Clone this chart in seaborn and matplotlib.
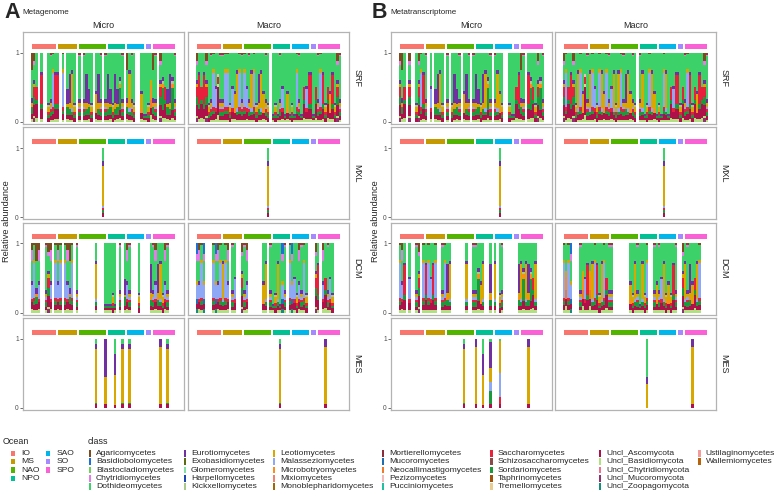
import numpy as np
import pandas as pd
import seaborn as sns
import matplotlib.pyplot as plt
from matplotlib.patches import Rectangle

sns.set_style("white")
plt.rcParams["font.family"] = ["Liberation Sans", "DejaVu Sans"]

# ---- data ----
oceans = ["IO", "MS", "NAO", "NPO", "SAO", "SO", "SPO"]
ocean_n = [11, 9, 12, 8, 8, 3, 10]
ocean_colors = ["#F8766D", "#C49A00", "#53B400", "#00C094", "#00B6EB", "#A58AFF", "#FB61D7"]

classes = ["Agaricomycetes", "Basidiobolomycetes", "Blastocladiomycetes", "Chytridiomycetes",
           "Dothideomycetes", "Eurotiomycetes", "Exobasidiomycetes", "Glomeromycetes",
           "Harpellomycetes", "Kickxellomycetes", "Leotiomycetes", "Malasseziomycetes",
           "Microbotryomycetes", "Mixiomycetes", "Monoblepharidomycetes", "Mortierellomycetes",
           "Mucoromycetes", "Neocallimastigomycetes", "Pezizomycetes", "Pucciniomycetes",
           "Saccharomycetes", "Schizosaccharomycetes", "Sordariomycetes", "Taphrinomycetes",
           "Tremellomycetes", "Uncl_Ascomycota", "Uncl_Basidiomycota", "Uncl_Chytridiomycota",
           "Uncl_Mucoromycota", "Uncl_Zoopagomycota", "Ustilaginomycetes", "Wallemiomycetes"]
class_colors = ["#7B4A1E", "#1E6FD9", "#6FD15A", "#E57BE8", "#3DD16A", "#7030A0", "#5C6B12",
                "#7EE0A0", "#1F45B0", "#A8C98A", "#D9A800", "#8FA8F5", "#FF8C1A", "#F08070",
                "#A0680A", "#8B2E3A", "#1E6FB0", "#F07A2A", "#F5B8B8", "#20C0A0", "#E8203C",
                "#8A4A4A", "#1A9A3A", "#A0520A", "#E8CC90", "#B0104A", "#B0E080", "#F07090",
                "#903070", "#10907A", "#F59A9A", "#B8620A"]

# typical class mixtures seen in the bars (code -> class fractions)
profiles = {
    "g": {"Agaricomycetes": .03, "Chytridiomycetes": .02, "Dothideomycetes": .62, "Eurotiomycetes": .06,
          "Leotiomycetes": .05, "Malasseziomycetes": .04, "Saccharomycetes": .03, "Sordariomycetes": .07,
          "Uncl_Ascomycota": .05, "Uncl_Basidiomycota": .03},
    "h": {"Dothideomycetes": .72, "Eurotiomycetes": .03, "Leotiomycetes": .08, "Sordariomycetes": .04,
          "Saccharomycetes": .04, "Uncl_Ascomycota": .06, "Kickxellomycetes": .03},
    "G": {"Dothideomycetes": .88, "Eurotiomycetes": .03, "Sordariomycetes": .03, "Uncl_Ascomycota": .03,
          "Uncl_Basidiomycota": .03},
    "b": {"Agaricomycetes": .12, "Chytridiomycetes": .06, "Dothideomycetes": .22, "Eurotiomycetes": .05,
          "Leotiomycetes": .05, "Saccharomycetes": .14, "Sordariomycetes": .12, "Uncl_Ascomycota": .16,
          "Uncl_Basidiomycota": .03, "Uncl_Mucoromycota": .05},
    "w": {"Agaricomycetes": .25, "Dothideomycetes": .40, "Eurotiomycetes": .08, "Microbotryomycetes": .05,
          "Sordariomycetes": .10, "Uncl_Ascomycota": .08, "Uncl_Basidiomycota": .04},
    "p": {"Dothideomycetes": .30, "Eurotiomycetes": .42, "Leotiomycetes": .06, "Microbotryomycetes": .04,
          "Sordariomycetes": .08, "Uncl_Ascomycota": .07, "Uncl_Basidiomycota": .03},
    "q": {"Dothideomycetes": .52, "Eurotiomycetes": .22, "Leotiomycetes": .04, "Sordariomycetes": .12,
          "Uncl_Ascomycota": .06, "Uncl_Basidiomycota": .04},
    "m": {"Agaricomycetes": .02, "Dothideomycetes": .22, "Leotiomycetes": .05, "Malasseziomycetes": .50,
          "Saccharomycetes": .05, "Sordariomycetes": .05, "Uncl_Ascomycota": .08, "Uncl_Basidiomycota": .03},
    "n": {"Dothideomycetes": .48, "Eurotiomycetes": .04, "Malasseziomycetes": .28, "Saccharomycetes": .06,
          "Uncl_Ascomycota": .10, "Uncl_Basidiomycota": .04},
    "y": {"Dothideomycetes": .25, "Eurotiomycetes": .05, "Leotiomycetes": .50, "Malasseziomycetes": .05,
          "Sordariomycetes": .05, "Uncl_Ascomycota": .07, "Uncl_Basidiomycota": .03},
    "a": {"Dothideomycetes": .55, "Eurotiomycetes": .05, "Leotiomycetes": .22, "Microbotryomycetes": .05,
          "Uncl_Ascomycota": .09, "Uncl_Basidiomycota": .04},
    "r": {"Dothideomycetes": .28, "Eurotiomycetes": .04, "Saccharomycetes": .42, "Sordariomycetes": .08,
          "Uncl_Ascomycota": .14, "Uncl_Basidiomycota": .04},
    "d": {"Dothideomycetes": .50, "Saccharomycetes": .18, "Sordariomycetes": .06, "Uncl_Ascomycota": .20,
          "Uncl_Basidiomycota": .06},
    "s": {"Dothideomycetes": .35, "Eurotiomycetes": .06, "Kickxellomycetes": .04, "Microbotryomycetes": .06,
          "Sordariomycetes": .32, "Uncl_Ascomycota": .12, "Uncl_Basidiomycota": .05},
    "o": {"Dothideomycetes": .40, "Leotiomycetes": .08, "Microbotryomycetes": .20, "Neocallimastigomycetes": .12,
          "Uncl_Ascomycota": .10, "Uncl_Basidiomycota": .10},
    "c": {"Agaricomycetes": .10, "Chytridiomycetes": .15, "Dothideomycetes": .30, "Eurotiomycetes": .05,
          "Malasseziomycetes": .20, "Saccharomycetes": .05, "Uncl_Ascomycota": .10, "Uncl_Basidiomycota": .05},
    "u": {"Basidiobolomycetes": .15, "Chytridiomycetes": .10, "Dothideomycetes": .30, "Leotiomycetes": .05,
          "Malasseziomycetes": .20, "Mucoromycetes": .08, "Uncl_Ascomycota": .07, "Uncl_Zoopagomycota": .05},
    "k": {"Dothideomycetes": .30, "Pezizomycetes": .05, "Saccharomycetes": .10, "Tremellomycetes": .05,
          "Uncl_Ascomycota": .40, "Uncl_Basidiomycota": .10},
    "X": {"Dothideomycetes": .18, "Eurotiomycetes": .08, "Leotiomycetes": .58, "Malasseziomycetes": .03,
          "Saccharomycetes": .03, "Sordariomycetes": .04, "Uncl_Ascomycota": .06},
    "Y": {"Dothideomycetes": .08, "Eurotiomycetes": .07, "Leotiomycetes": .78, "Sordariomycetes": .02,
          "Uncl_Ascomycota": .05},
    "P": {"Eurotiomycetes": .12, "Leotiomycetes": .83, "Uncl_Ascomycota": .05},
    "E": {"Eurotiomycetes": .55, "Leotiomycetes": .40, "Uncl_Ascomycota": .05},
    "Q": {"Dothideomycetes": .22, "Eurotiomycetes": .30, "Leotiomycetes": .44, "Uncl_Ascomycota": .04},
    "S": {"Dothideomycetes": .05, "Eurotiomycetes": .38, "Leotiomycetes": .20, "Malasseziomycetes": .12,
          "Sordariomycetes": .20, "Uncl_Ascomycota": .05},
    "L": {"Dothideomycetes": .04, "Leotiomycetes": .45, "Malasseziomycetes": .36, "Saccharomycetes": .10,
          "Uncl_Ascomycota": .05},
    "T": {"Dothideomycetes": .55, "Eurotiomycetes": .10, "Leotiomycetes": .35},
}

# per station profile code, one chunk per ocean ('.' = no sample)
mg_micro_srf = "wbd.r..hgmr|r.m.qpyh.|g.gpqh.apg.g|pqhpqsg.|wygh..aG|Gho|wg.bsdqpsg"
mg_macro_srf = "brdrbhgmnkg|gmmhnaymg|mngymhpyagh.|GhGgnGaG|hGmgGdnr|rGd|gmrhdarhbg"
mg_micro_mxl = "...........|.........|..........X.|........|........|...|.........."
mg_macro_mxl = "...........|.........|..........X.|........|........|...|.........."
mg_micro_dcm = "cmwc..gbc.m|cm.mcwm.g|.......y...G|GGhG.g.q|cg...h..|..p|gcpyhcg..."
mg_macro_dcm = "ucmu...mucm|ymc.gn..b|gc......ay.g|GhyGug.m|unhcgmh.|..b|r.cdgnh..."
mg_micro_mes = "...........|.........|.......Y...E|...Q..Y.|.Y......|...|...P..Y..."
mg_macro_mes = "...........|.........|............|...Y....|........|...|...P......"

mt_micro_srf = "bwd.b..hbmr|g.n.qpyh.|g.hpqg.apg.g|pqhpysg.|gyah..hG|Gdr|wg.rsdhbsg"
mt_macro_srf = "bmdrbhymakg|ymnhmyamg|nyhymgpyagh.|gyGhmyaG|hGmyGdnr|rhd|gmrhdardbg"
mt_micro_mxl = "...........|.........|............|........|..X.....|...|.........."
mt_macro_mxl = "...........|.........|............|........|..X.....|...|.........."
mt_micro_dcm = "mcr.n..gb.m|rmnrm..gm|py......y..g|gsay..p.|y.hg....|..p|ysypsdy..."
mt_macro_dcm = "momu...gonr|oymrhymdg|g.......ahyg|Gyhm..ga|gnyhahrg|..b|ygpadym..."
mt_micro_mes = "...........|.........|.......Y....|P..Q..S.|..L.....|...|...P......"
mt_macro_mes = "...........|.........|............|...T....|........|...|...P......"

depths = ["SRF", "MXL", "DCM", "MES"]
fractions = ["Micro", "Macro"]
mg_facets = [[mg_micro_srf, mg_macro_srf], [mg_micro_mxl, mg_macro_mxl],
             [mg_micro_dcm, mg_macro_dcm], [mg_micro_mes, mg_macro_mes]]
mt_facets = [[mt_micro_srf, mt_macro_srf], [mt_micro_mxl, mt_macro_mxl],
             [mt_micro_dcm, mt_macro_dcm], [mt_micro_mes, mt_macro_mes]]

n_st = sum(ocean_n)
class_pal = dict(zip(classes, class_colors))


def facet_frame(code_str):
    chunks = code_str.split("|")
    assert [len(c) for c in chunks] == ocean_n, code_str
    rows = []
    for st, code in enumerate("".join(chunks)):
        if code == ".":
            continue
        prof = profiles[code]
        tot = sum(prof.values())
        for cls, v in prof.items():
            rows.append((st, cls, v / tot))
    return pd.DataFrame(rows, columns=["station", "cls", "frac"])


# ---- layout (pixels) ----
W, H = 777, 493
fig = plt.figure(figsize=(W / 100, H / 100), dpi=100)


def px_axes(l, t, w, h):
    return fig.add_axes([l / W, 1 - (t + h) / H, w / W, h / H])


panel_w, panel_h = 161, 92
row_top = [32, 127.3, 222.6, 317.9]
ov_starts = np.concatenate([[0], np.cumsum(ocean_n)[:-1]])
ov_centers = ov_starts + (np.array(ocean_n) - 1) / 2

blocks = [("A", "Metagenome", mg_facets, [23, 188], 7),
          ("B", "Metatranscriptome", mt_facets, [391, 555], 375)]

ov = fig.add_axes([0, 0, 1, 1])
ov.set_xlim(0, W)
ov.set_ylim(H, 0)
ov.axis("off")

for letter, title, facets, lefts, ylab_x in blocks:
    ov.text(lefts[0] - 19, 13, letter, fontsize=15.5, fontweight="bold", va="center", ha="left")
    ov.text(lefts[0] - 1, 12, title, fontsize=5.8, va="center", ha="left")
    ov.text(ylab_x, 221, "Relative abundance", rotation=90, fontsize=6.7, va="center", ha="center")
    for j, frac in enumerate(fractions):
        ov.text(lefts[j] + panel_w / 2, 26, frac, fontsize=6.5, ha="center", va="center")
    for i, depth in enumerate(depths):
        ov.text(lefts[1] + panel_w + 8, row_top[i] + panel_h / 2, depth, rotation=-90,
                fontsize=6.5, ha="center", va="center")
        for j in range(2):
            ax = px_axes(lefts[j], row_top[i], panel_w, panel_h)
            df = facet_frame(facets[i][j])
            sns.histplot(data=df, x="station", weights="frac", hue="cls", hue_order=classes,
                         palette=class_pal, multiple="stack", discrete=True, shrink=1,
                         alpha=1, linewidth=0, legend=False, ax=ax)
            ax.bar(ov_centers, 0.07, width=np.array(ocean_n) - 0.9, bottom=1.06,
                   color=ocean_colors, linewidth=0)
            ax.set_xlim(-0.5 - 3.2, n_st - 0.5 + 3.4)
            ax.set_ylim(-0.03, 1.30)
            ax.set_xlabel("")
            ax.set_ylabel("")
            ax.set_xticks([])
            ax.set_facecolor("white")
            for sp in ax.spines.values():
                sp.set_color("#b3b3b3")
                sp.set_linewidth(0.9)
            if j == 0:
                ax.set_yticks([0, 1])
                ax.set_yticklabels(["0", "1"])
                ax.tick_params(axis="y", length=2, width=0.5, color="#333333",
                               labelsize=4.8, labelcolor="#4d4d4d", pad=1, left=True)
            else:
                ax.set_yticks([])

# ---- legends ----
row_y = [453.3, 461.7, 470.0, 478.3, 486.7]
ov.text(3, 441, "Ocean", fontsize=6.4, va="center", ha="left")
ov.text(88, 441, "class", fontsize=6.4, va="center", ha="left")
for k, (name, col) in enumerate(zip(oceans, ocean_colors)):
    cx, ry = (10.7, row_y[k]) if k < 4 else (45.7, row_y[k - 4])
    ov.add_patch(Rectangle((cx, ry - 2.6), 4.4, 5.2, color=col, linewidth=0))
    ov.text(cx + 10.5, ry, name, fontsize=6.1, va="center", ha="left")

key_x = [88.5, 183.5, 272.5, 381.5, 490, 598.5, 698]
for k, (name, col) in enumerate(zip(classes, class_colors)):
    kx, ry = key_x[k // 5], row_y[k % 5]
    ov.add_patch(Rectangle((kx, ry - 3.3), 2.6, 6.6, color=col, linewidth=0))
    ov.text(kx + 7.5, ry, name, fontsize=6.1, va="center", ha="left")

fig.savefig("out.png", dpi=100)
